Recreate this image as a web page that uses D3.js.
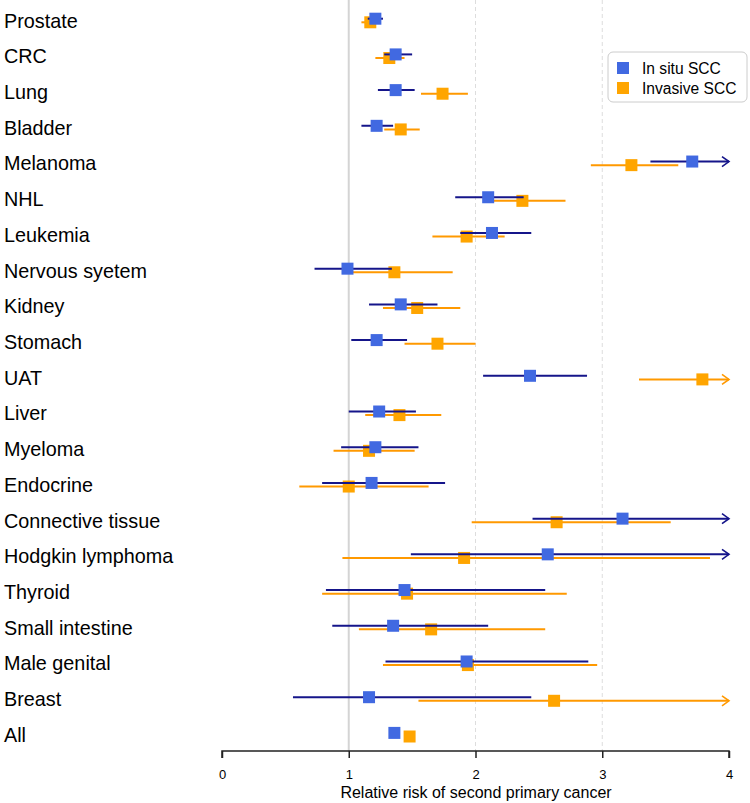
<!DOCTYPE html>
<html>
<head>
<meta charset="utf-8">
<script src="https://cdn.jsdelivr.net/npm/d3@7"></script>
<style>
  html, body { margin: 0; padding: 0; background: #fff; }
  svg { display: block; font-family: "Liberation Sans", Arial, sans-serif; }
</style>
</head>
<body>
<svg id="chart" width="750" height="803"></svg>
<script>
// ---- data ----
const categories = ["Prostate","CRC","Lung","Bladder","Melanoma","NHL","Leukemia","Nervous syetem","Kidney","Stomach","UAT","Liver","Myeloma","Endocrine","Connective tissue","Hodgkin lymphoma","Thyroid","Small intestine","Male genital","Breast","All"];

// In situ SCC: point estimate, lower CI, upper CI (values > 4 run off the axis)
const insituRR    = [1.21, 1.37, 1.37, 1.22, 3.71, 2.10, 2.13, 0.99, 1.41, 1.22, 2.43, 1.24, 1.21, 1.18, 3.16, 2.57, 1.44, 1.35, 1.93, 1.16, 1.36];
const insituLower = [1.15, 1.28, 1.23, 1.10, 3.38, 1.84, 1.88, 0.73, 1.16, 1.02, 2.06, 1.00, 0.94, 0.79, 2.45, 1.49, 0.82, 0.87, 1.29, 0.56, 1.33];
const insituUpper = [1.27, 1.50, 1.52, 1.35, 4.50, 2.38, 2.44, 1.34, 1.70, 1.46, 2.88, 1.53, 1.55, 1.76, 4.10, 4.40, 2.55, 2.10, 2.89, 2.44, 1.39];

// Invasive SCC
const invasiveRR    = [1.17, 1.32, 1.74, 1.41, 3.23, 2.37, 1.93, 1.36, 1.54, 1.70, 3.79, 1.40, 1.16, 1.00, 2.64, 1.91, 1.46, 1.65, 1.94, 2.62, 1.48];
const invasiveLower = [1.10, 1.21, 1.57, 1.28, 2.91, 2.10, 1.66, 1.02, 1.27, 1.44, 3.29, 1.13, 0.88, 0.61, 1.97, 0.95, 0.79, 1.08, 1.27, 1.55, 1.45];
const invasiveUpper = [1.23, 1.44, 1.94, 1.56, 3.60, 2.71, 2.23, 1.82, 1.88, 2.00, 4.40, 1.73, 1.52, 1.63, 3.54, 3.85, 2.72, 2.55, 2.96, 4.60, 1.51];

const xTicks = [0, 1, 2, 3, 4];
const refLines = [1, 2, 3];
const seriesNames = ["In situ SCC", "Invasive SCC"];
const axisTitle = "Relative risk of second primary cancer";

// ---- layout ----
const svg = d3.select("#chart");
const axisY = 751;
const x = d3.scaleLinear().domain([0, 4]).range([222, 729]);
const y = d3.scalePoint().domain(categories).range([20.5, 734.7]).padding(0);

const series = [
  { name: seriesNames[0], rr: insituRR, lo: insituLower, hi: insituUpper, fill: "#4169E1", line: "#15158a", dy: -1.8 },
  { name: seriesNames[1], rr: invasiveRR, lo: invasiveLower, hi: invasiveUpper, fill: "#FFA500", line: "#FF9900", dy: 1.8 }
];

// reference lines
svg.append("g").selectAll("line").data(refLines).join("line")
  .attr("x1", d => x(d)).attr("x2", d => x(d))
  .attr("y1", 0).attr("y2", axisY)
  .attr("stroke", d => d === 1 ? "#d4d4d4" : "#dddddd")
  .attr("stroke-width", d => d === 1 ? 2 : 1)
  .attr("stroke-dasharray", d => d === 1 ? null : "4,3");

// category labels
svg.append("g").selectAll("text").data(categories).join("text")
  .attr("x", 4).attr("y", d => y(d)).attr("dy", "0.36em")
  .attr("font-size", "19.8px").attr("fill", "#000")
  .text(d => d);

// series: invasive first (underneath), then in situ
const dmax = x.domain()[1];
[series[1], series[0]].forEach(s => {
  const g = svg.append("g");
  const rows = categories.map((c, i) => ({ c, rr: s.rr[i], lo: s.lo[i], hi: s.hi[i] }));
  g.selectAll("line.ci").data(rows).join("line")
    .attr("class", "ci")
    .attr("x1", d => x(d.lo)).attr("x2", d => x(Math.min(d.hi, dmax)))
    .attr("y1", d => y(d.c) + s.dy).attr("y2", d => y(d.c) + s.dy)
    .attr("stroke", s.line).attr("stroke-width", 2);
  g.selectAll("path.arrow").data(rows.filter(d => d.hi > dmax)).join("path")
    .attr("class", "arrow")
    .attr("d", d => {
      const xe = x(dmax), yy = y(d.c) + s.dy;
      return `M${xe - 7},${yy - 5}L${xe},${yy}L${xe - 7},${yy + 5}`;
    })
    .attr("fill", "none").attr("stroke", s.line).attr("stroke-width", 1.6);
  g.selectAll("rect").data(rows).join("rect")
    .attr("x", d => x(d.rr) - 6).attr("y", d => y(d.c) + s.dy - 6)
    .attr("width", 12).attr("height", 12)
    .attr("fill", s.fill);
});

// x axis
const ax = svg.append("g").attr("transform", `translate(0,${axisY})`)
  .call(d3.axisBottom(x).tickValues(xTicks).tickFormat(d3.format("d")).tickSize(7).tickPadding(12));
ax.select(".domain").attr("stroke", "#222").attr("stroke-width", 1.5).attr("d", `M${x(0)},7V0H${x(4)}V7`);
ax.selectAll(".tick line").attr("stroke", "#222").attr("stroke-width", 1.5);
ax.selectAll(".tick text").attr("font-size", "13px").attr("fill", "#000")
  .attr("font-family", "Liberation Sans, Arial, sans-serif");

svg.append("text")
  .attr("x", (x(0) + x(4)) / 2 + 0.5).attr("y", 797.5)
  .attr("text-anchor", "middle").attr("font-size", "16px").attr("fill", "#000")
  .text(axisTitle);

// legend
const lg = svg.append("g");
lg.append("rect").attr("x", 608).attr("y", 52).attr("width", 139).attr("height", 50)
  .attr("rx", 5).attr("fill", "#fff").attr("stroke", "#cccccc");
lg.selectAll("rect.key").data(series).join("rect")
  .attr("class", "key")
  .attr("x", 617).attr("y", (d, i) => 62 + i * 20)
  .attr("width", 12).attr("height", 12).attr("fill", d => d.fill);
lg.selectAll("text").data(series).join("text")
  .attr("x", 642).attr("y", (d, i) => 68 + i * 20).attr("dy", "0.36em")
  .attr("font-size", "15.6px").attr("fill", "#000")
  .text(d => d.name);
</script>
</body>
</html>
